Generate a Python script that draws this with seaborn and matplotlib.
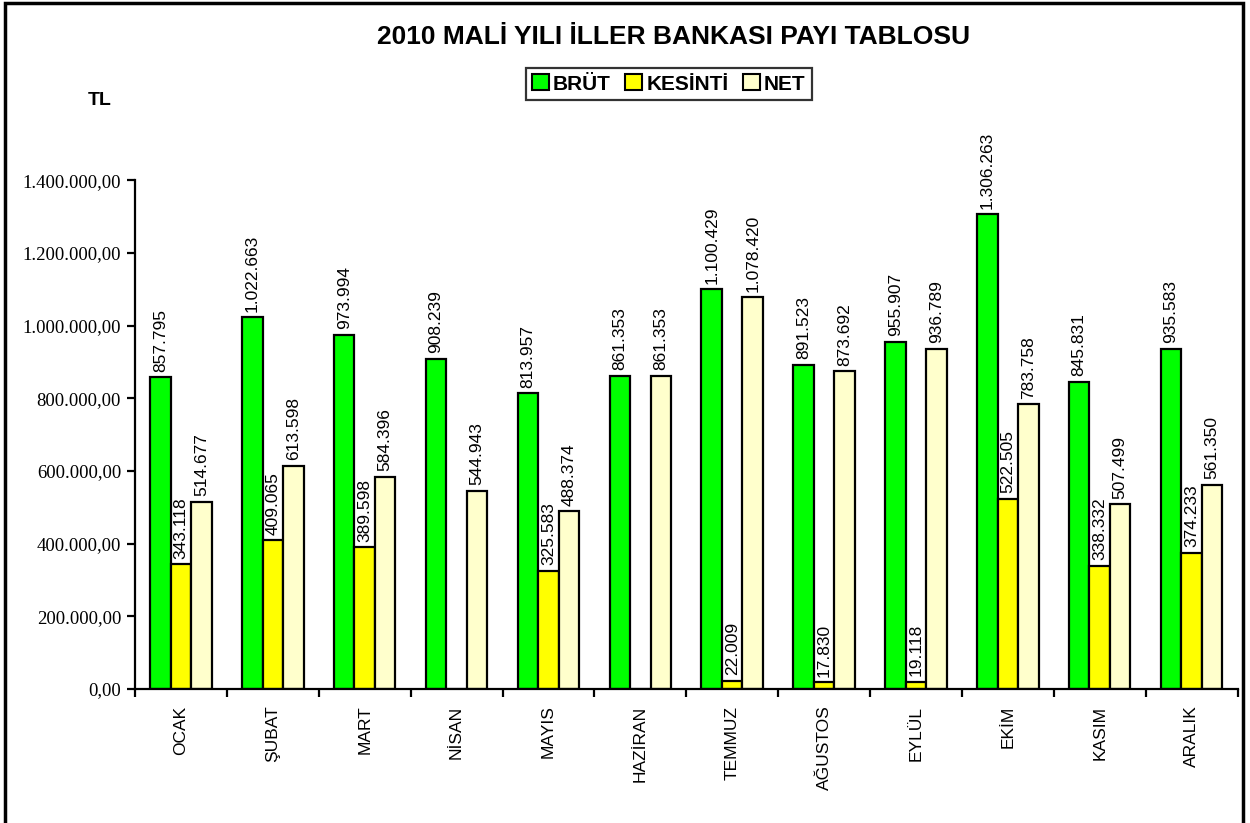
import matplotlib
matplotlib.use("Agg")
import matplotlib.pyplot as plt
import seaborn as sns
import pandas as pd
from matplotlib.patches import Rectangle
from matplotlib.ticker import FuncFormatter, FixedLocator

# data (TL)
months = ["OCAK", "ŞUBAT", "MART", "NİSAN", "MAYIS", "HAZİRAN",
          "TEMMUZ", "AĞUSTOS", "EYLÜL", "EKİM", "KASIM", "ARALIK"]
brut = [857795, 1022663, 973994, 908239, 813957, 861353,
        1100429, 891523, 955907, 1306263, 845831, 935583]
kesinti = [343118, 409065, 389598, 0, 325583, 0,
           22009, 17830, 19118, 522505, 338332, 374233]
net = [514677, 613598, 584396, 544943, 488374, 861353,
       1078420, 873692, 936789, 783758, 507499, 561350]
series = ["BRÜT", "KESİNTİ", "NET"]
colors = ["#00FF00", "#FFFF00", "#FFFFCC"]

df = pd.DataFrame({
    "ay": months * 3,
    "seri": [s for s in series for _ in months],
    "tutar": brut + kesinti + net,
})

sns.set_theme(style="white")
plt.rcParams["font.family"] = ["Liberation Sans", "DejaVu Sans"]
plt.rcParams["text.color"] = "black"
plt.rcParams["xtick.color"] = "black"
plt.rcParams["ytick.color"] = "black"

fig = plt.figure(figsize=(12.5, 8.23), dpi=100)
ax = fig.add_axes([0.108, 0.163, 0.882, 0.618])

sns.barplot(data=df, x="ay", y="tutar", hue="seri", order=months,
            hue_order=series, palette=colors, width=0.67, ax=ax,
            edgecolor="black", linewidth=1.6, saturation=1, legend=True)


def tr_num(v, decimals=0):
    s = f"{v:,.{decimals}f}"
    return s.replace(",", "X").replace(".", ",").replace("X", ".")


for cont in ax.containers:
    labels = [tr_num(b.get_height()) if b.get_height() > 0 else ""
              for b in cont]
    ax.bar_label(cont, labels=labels, rotation=90, padding=4, fontsize=12.5,
                 color="black")

ax.set_ylim(0, 1400000)
ax.set_xlim(-0.5, len(months) - 0.5)
ax.yaxis.set_major_locator(FixedLocator(range(0, 1400001, 200000)))
ax.yaxis.set_major_formatter(FuncFormatter(lambda v, p: tr_num(v, 2)))
for lbl in ax.get_yticklabels():
    lbl.set_fontfamily("Liberation Serif")
    lbl.set_fontsize(13.5)

# category ticks between groups, labels centred under groups
ax.set_xticks(range(len(months)))
ax.set_xticklabels(months, rotation=90, fontsize=12.5)
ax.set_xticks([i - 0.5 for i in range(len(months) + 1)], minor=True)
ax.tick_params(axis="x", which="major", length=0, pad=12)
ax.tick_params(axis="x", which="minor", length=6, width=1.6,
               direction="out", bottom=True)
ax.tick_params(axis="y", length=6, width=1.6, direction="out", left=True,
               pad=4)
ax.set_xlabel("")
ax.set_ylabel("")

for side in ["top", "right"]:
    ax.spines[side].set_visible(False)
for side in ["left", "bottom"]:
    ax.spines[side].set_color("black")
    ax.spines[side].set_linewidth(1.6)

ax.legend_.remove()
handles = [Rectangle((0, 0), 1, 1, facecolor=c, edgecolor="black", lw=1.5)
           for c in colors]
leg = fig.legend(handles, series, loc="center", bbox_to_anchor=(0.535, 0.898),
                 ncol=3, frameon=True, fancybox=False, handlelength=0.8,
                 handleheight=0.8, handletextpad=0.2, columnspacing=0.7,
                 borderpad=0.3, prop={"weight": "bold", "size": 15})
leg.get_frame().set_edgecolor("black")
leg.get_frame().set_linewidth(1.6)
for t in leg.get_texts():
    t.set_color("black")

fig.text(0.539, 0.955, "2010 MALİ YILI İLLER BANKASI PAYI TABLOSU",
         ha="center", va="center", fontsize=19, fontweight="bold")
fig.text(0.08, 0.878, "TL", ha="center", va="center", fontsize=14,
         fontweight="bold")

fig.patches.append(Rectangle((0.004, -0.01), 0.9905, 1.006,
                             transform=fig.transFigure, fill=False,
                             edgecolor="black", linewidth=2.5))

fig.savefig("out.png", dpi=100)
